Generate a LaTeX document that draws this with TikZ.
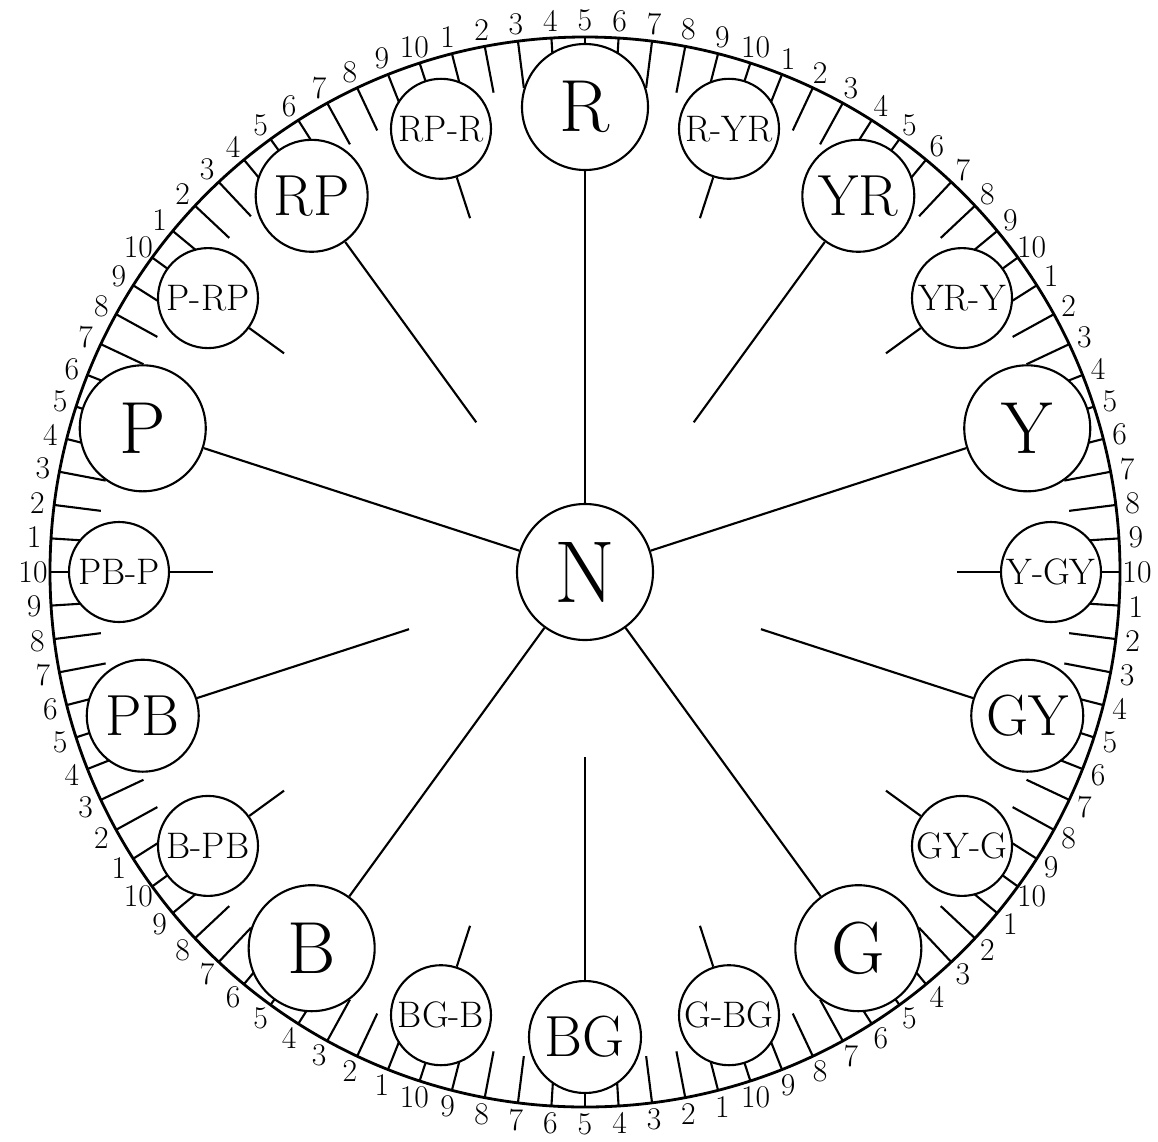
\documentclass[tikz,border=0pt]{standalone}
\usepackage{tikz}

\begin{document}
\begin{tikzpicture}[
        x=0.2mm, y=0.2mm,
        circulo_base/.style={draw, circle, fill=white, line width=1.2pt, inner sep=0pt},
        circulo_principal/.style={circulo_base, minimum size=25.2mm, font=\fontsize{42}{42}\selectfont},
        circulo_intermedio/.style={circulo_base, minimum size=22.4mm, font=\fontsize{33}{33}\selectfont},
        circulo_menor/.style={circulo_base, minimum size=20mm, font=\fontsize{21}{21}\selectfont},
        circulo_neutro/.style={circulo_base, minimum size=27.2mm, font=\fontsize{50}{50}\selectfont},
        raio/.style={line width=1.2pt},
        traco/.style={line width=1.2pt},
        numero/.style={font=\fontsize{18}{18}\selectfont, inner sep=0pt}
    ]
    \useasboundingbox (-585,-569) rectangle (573,572);

    % escala de 100 matizes
    \draw[line width=1.6pt] (0,0) circle (535);
    \foreach \k in {0,...,99} {
        \draw[traco] ({90-3.6*\k}:535) -- ({90-3.6*\k}:488);
        \pgfmathtruncatemacro{\num}{mod(\k+4,10)+1}
        \node[numero] (n\k) at ({90-3.6*\k}:552) {\num};
    }

    % matizes principais
    \node[circulo_principal] (R) at (90:465) {R};
    \node[circulo_principal] (Y) at (18:465) {Y};
    \node[circulo_principal] (G) at (-54:465) {G};
    \node[circulo_principal] (B) at (-126:465) {B};
    \node[circulo_principal] (P) at (162:465) {P};

    % matizes intermediarios
    \node[circulo_intermedio] (YR) at (54:465) {YR};
    \node[circulo_intermedio] (GY) at (-18:465) {GY};
    \node[circulo_intermedio] (BG) at (-90:465) {BG};
    \node[circulo_intermedio] (PB) at (-162:465) {PB};
    \node[circulo_intermedio] (RP) at (126:465) {RP};

    % matizes menores
    \node[circulo_menor] (RPR) at (108:466) {RP-R};
    \node[circulo_menor] (RYR) at (72:466) {R-YR};
    \node[circulo_menor] (YRY) at (36:466) {YR-Y};
    \node[circulo_menor] (YGY) at (0:466) {Y-GY};
    \node[circulo_menor] (GYG) at (-36:466) {GY-G};
    \node[circulo_menor] (GBG) at (-72:466) {G-BG};
    \node[circulo_menor] (BGB) at (-108:466) {BG-B};
    \node[circulo_menor] (BPB) at (-144:466) {B-PB};
    \node[circulo_menor] (PBP) at (180:466) {PB-P};
    \node[circulo_menor] (PRP) at (144:466) {P-RP};

    % neutro
    \node[circulo_neutro] (N) at (0,0) {N};

    \draw[raio] (N) -- (R);
    \draw[raio] (N) -- (Y);
    \draw[raio] (N) -- (G);
    \draw[raio] (N) -- (B);
    \draw[raio] (N) -- (P);

    \coordinate (fim_YR) at (54:185);
    \coordinate (fim_GY) at (-18:185);
    \coordinate (fim_BG) at (-90:185);
    \coordinate (fim_PB) at (-162:185);
    \coordinate (fim_RP) at (126:185);
    \draw[raio] (YR) -- (fim_YR);
    \draw[raio] (GY) -- (fim_GY);
    \draw[raio] (BG) -- (fim_BG);
    \draw[raio] (PB) -- (fim_PB);
    \draw[raio] (RP) -- (fim_RP);

    \coordinate (fim_RPR) at (108:372);
    \coordinate (fim_RYR) at (72:372);
    \coordinate (fim_YRY) at (36:372);
    \coordinate (fim_YGY) at (0:372);
    \coordinate (fim_GYG) at (-36:372);
    \coordinate (fim_GBG) at (-72:372);
    \coordinate (fim_BGB) at (-108:372);
    \coordinate (fim_BPB) at (-144:372);
    \coordinate (fim_PBP) at (180:372);
    \coordinate (fim_PRP) at (144:372);
    \draw[raio] (RPR) -- (fim_RPR);
    \draw[raio] (RYR) -- (fim_RYR);
    \draw[raio] (YRY) -- (fim_YRY);
    \draw[raio] (YGY) -- (fim_YGY);
    \draw[raio] (GYG) -- (fim_GYG);
    \draw[raio] (GBG) -- (fim_GBG);
    \draw[raio] (BGB) -- (fim_BGB);
    \draw[raio] (BPB) -- (fim_BPB);
    \draw[raio] (PBP) -- (fim_PBP);
    \draw[raio] (PRP) -- (fim_PRP);
\end{tikzpicture}
\end{document}
